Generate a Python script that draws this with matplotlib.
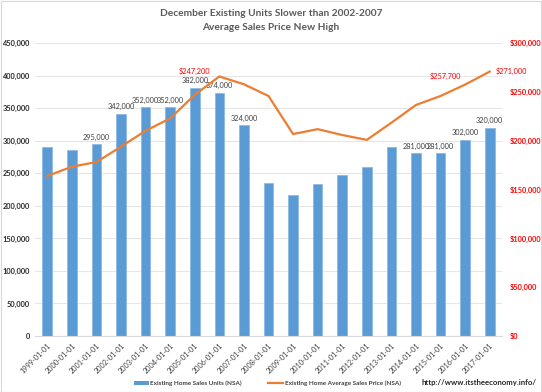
import matplotlib
matplotlib.use("Agg")
import matplotlib.pyplot as plt
from matplotlib.ticker import FuncFormatter, MultipleLocator
from matplotlib.lines import Line2D
from matplotlib.patches import Rectangle

plt.rcParams['font.family'] = ['Lato', 'DejaVu Sans']

years = list(range(1999, 2018))
dates = [f"{y}-01-01" for y in years]
units = [291000, 286000, 295000, 342000, 352000, 352000, 382000, 374000, 324000,
         235000, 217000, 234000, 247000, 260000, 291000, 281000, 281000, 302000, 320000]
price = [164000, 173500, 178300, 194000, 210400, 223000, 247200, 266000, 258000,
         246000, 207000, 212000, 206000, 201000, 218600, 236800, 246000, 257700, 271000]
unit_labels = {2001: "295,000", 2002: "342,000", 2003: "352,000", 2004: "352,000",
               2005: "382,000", 2006: "374,000", 2007: "324,000", 2014: "281,000",
               2015: "281,000", 2016: "302,000", 2017: "320,000"}
price_labels = {2005: "$247,200", 2016: "$257,700", 2017: "$271,000"}

title = "December Existing Units Slower than 2002-2007\nAverage Sales Price New High"
legend_labels = ["Existing Home Sales Units (NSA)", "Existing Home Average Sales Price (NSA)"]
source = "http://www.itstheeconomy.info/"

BLUE = "#5B9BD5"
ORANGE = "#ED7D31"
RED = "#FF0000"

W, H = 542, 392
fig = plt.figure(figsize=(5.42, 3.92), dpi=100)
fig.patch.set_facecolor("white")
fig.add_artist(Rectangle((0.001, 0.001), 0.997, 0.997, transform=fig.transFigure,
                         fill=False, edgecolor="#D9D9D9", linewidth=0.8))
ax = fig.add_axes([35 / W, 1 - 336 / H, 467 / W, (336 - 43.3) / H])
x = list(range(len(years)))
ax.bar(x, units, width=0.39, color=BLUE, edgecolor="#8FB9E3", linewidth=0.6, zorder=2)
ax.set_xlim(-0.5, len(years) - 0.5)
ax.set_ylim(0, 450000)
ax.yaxis.set_major_locator(MultipleLocator(50000))
ax.yaxis.set_major_formatter(FuncFormatter(lambda v, p: "0" if v == 0 else f"{int(v):,}"))
ax.grid(axis="y", color="#E6E6E6", linewidth=0.8, zorder=0)
ax.set_axisbelow(True)
for s in ax.spines.values():
    s.set_visible(False)
ax.spines['bottom'].set_visible(True)
ax.spines['bottom'].set_color("#D9D9D9")
ax.tick_params(axis="y", length=0, labelsize=5.3, pad=3.5, labelcolor="#262626")
for t in ax.get_yticklabels():
    t.set_fontweight("bold")
ax.set_xticks(x)
ax.set_xticklabels(dates, rotation=45, ha="right", rotation_mode="anchor", fontsize=5.3,
                   color="#404040")
ax.tick_params(axis="x", length=0, pad=4)

ax2 = ax.twinx()
ax2.plot(x, price, color=ORANGE, linewidth=1.6, zorder=3)
ax2.set_ylim(0, 300000)
ax2.yaxis.set_major_locator(MultipleLocator(50000))
ax2.yaxis.set_major_formatter(FuncFormatter(lambda v, p: f"${int(v):,}"))
for s in ax2.spines.values():
    s.set_visible(False)
ax2.tick_params(axis="y", length=0, labelsize=5.3, pad=5.5, labelcolor=RED)
for t in ax2.get_yticklabels():
    t.set_fontweight("bold")

for i, y in enumerate(years):
    if y in unit_labels:
        ax.annotate(unit_labels[y], (i, units[i]), xytext=(0, 2.5), textcoords="offset points",
                    ha="center", va="bottom", fontsize=5.3, color="#404040", zorder=5)

for i, y in enumerate(years):
    if y in price_labels:
        if y == 2005:
            off, ha = (0, 17), "center"
        elif y == 2016:
            off, ha = (-3, 6), "right"
        else:
            off, ha = (4, 0), "left"
        ax2.annotate(price_labels[y], (i, price[i]), xytext=off, textcoords="offset points",
                     ha=ha, va="center", fontsize=5.3, color=RED, zorder=5)

fig.text(0.5, 1 - 14 / H, title.split("\n")[0], ha="center", va="center", fontsize=7.3,
         fontweight="bold", color="#595959")
fig.text(0.5, 1 - 27.5 / H, title.split("\n")[1], ha="center", va="center", fontsize=7.3,
         fontweight="bold", color="#595959")

# legend drawn manually for exact placement
ly = 1 - 383 / H
fig.add_artist(Rectangle((134 / W, ly - 2.2 / H), 15 / W, 4.4 / H, transform=fig.transFigure,
                         facecolor=BLUE, edgecolor="none"))
fig.text(150 / W, ly, legend_labels[0], ha="left", va="center", fontsize=4.6,
         color="#404040", fontweight="bold")
fig.add_artist(Line2D([268 / W, 283 / W], [ly, ly], transform=fig.transFigure,
                      color=ORANGE, linewidth=1.6))
fig.text(285 / W, ly, legend_labels[1], ha="left", va="center", fontsize=4.6,
         color="#404040", fontweight="bold")
fig.text(537 / W, ly, source, ha="right", va="center", fontsize=5.6, color="#262626",
         fontweight="bold")

fig.savefig("out.png", dpi=100)
